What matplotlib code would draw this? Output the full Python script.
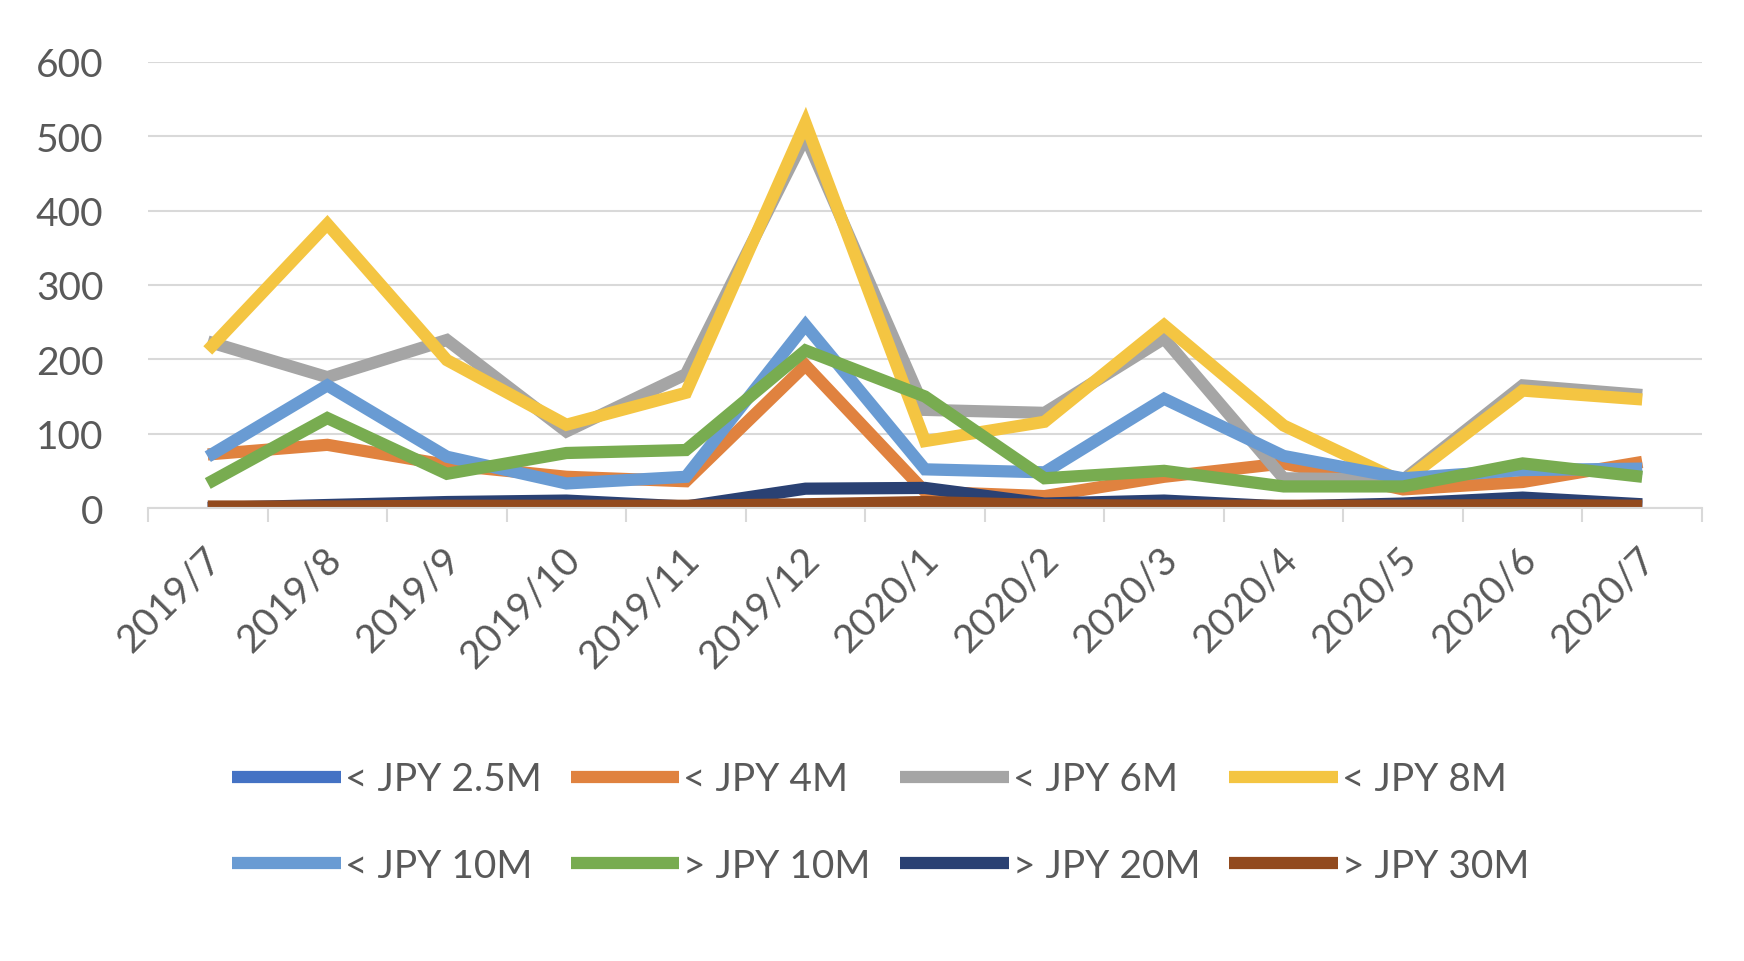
import numpy as np
import matplotlib
matplotlib.use('Agg')
from matplotlib import pyplot as plt

months = ['2019/7', '2019/8', '2019/9', '2019/10', '2019/11', '2019/12',
          '2020/1', '2020/2', '2020/3', '2020/4', '2020/5', '2020/6', '2020/7']

# series values
lt_2_5m = [0, 1, 1, 1, 1, 1, 2, 1, 1, 1, 1, 1, 1]
lt_4m = [72, 85, 58, 42, 36, 192, 22, 16, 42, 60, 25, 35, 62]
lt_6m = [224, 176, 226, 103, 180, 500, 132, 128, 228, 40, 38, 165, 152]
lt_8m = [212, 382, 199, 112, 155, 518, 90, 116, 246, 111, 35, 158, 146]
lt_10m = [69, 165, 69, 33, 42, 246, 52, 48, 147, 70, 40, 51, 53]
gt_10m = [33, 121, 46, 74, 78, 212, 150, 40, 50, 29, 29, 60, 42]
gt_20m = [0, 4, 8, 10, 2, 26, 27, 6, 10, 2, 6, 14, 5]
gt_30m = [2, 2, 3, 3, 3, 5, 8, 4, 3, 3, 3, 4, 3]

labels = ['< JPY 2.5M', '< JPY 4M', '< JPY 6M', '< JPY 8M',
          '< JPY 10M', '> JPY 10M', '> JPY 20M', '> JPY 30M']
series = [lt_2_5m, lt_4m, lt_6m, lt_8m, lt_10m, gt_10m, gt_20m, gt_30m]
colors = ['#4472C4', '#E0823F', '#A5A5A5', '#F4C542',
          '#699BD3', '#78AC50', '#2A4173', '#924A1E']

plt.rcParams['font.family'] = ['Lato', 'DejaVu Sans']
txt = '#595959'
grid = '#D9D9D9'
fs = 28

fig = plt.figure(figsize=(17.44, 9.62), dpi=100)
ax = fig.add_axes([148/1744, 1-509/962, (1702-148)/1744, (509-63)/962])

x = np.arange(len(months))
lines = []
for vals, lab, c in zip(series, labels, colors):
    ln, = ax.plot(x, vals, color=c, lw=8.8, label=lab, solid_joinstyle='miter',
                  solid_capstyle='butt')
    lines.append(ln)

ax.set_ylim(0, 600)
ax.set_xlim(-0.5, len(months)-0.5)
ax.set_yticks(range(0, 601, 100))
ax.yaxis.grid(True, color=grid, lw=1.5)
ax.set_axisbelow(True)
for s in ['left', 'right', 'top']:
    ax.spines[s].set_visible(False)
ax.spines['bottom'].set_color(grid)
ax.spines['bottom'].set_linewidth(1.5)
ax.tick_params(axis='y', length=0, pad=32, labelsize=fs, labelcolor=txt)

# category boundaries get the tick marks, labels sit on the points
ax.set_xticks(np.arange(-0.5, len(months), 1.0))
ax.set_xticklabels([])
ax.tick_params(axis='x', length=10, width=1.5, color=grid)
for i, m in enumerate(months):
    ax.annotate(m, xy=(i, 0), xycoords=('data', 'axes fraction'),
                xytext=(-5, -32), textcoords='offset pixels',
                rotation=45, ha='right', va='top', rotation_mode='anchor',
                fontsize=fs, color=txt)

# legend is filled row by row in the reference
order = [0, 4, 1, 5, 2, 6, 3, 7]
leg = fig.legend([lines[i] for i in order], [labels[i] for i in order],
                 loc='center', bbox_to_anchor=(0.505, 0.144), ncol=4, frameon=False,
                 fontsize=fs, labelcolor=txt, handlelength=2.8, handletextpad=0.1,
                 columnspacing=0.75, labelspacing=1.3)
for h in leg.legend_handles:
    h.set_linewidth(8.8)

fig.savefig('out.png', dpi=100, facecolor='white')
